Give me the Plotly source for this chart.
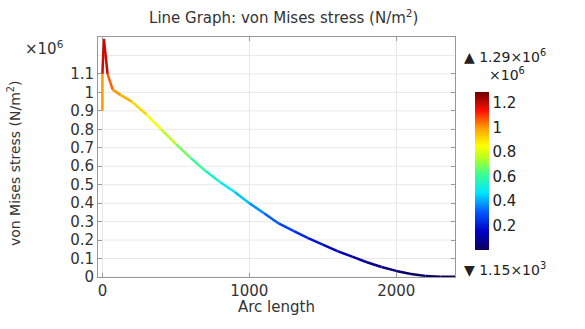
import plotly.graph_objects as go
from plotly.colors import sample_colorscale

# Arc length along the boundary and the von Mises stress there (x 1e6 N/m^2)
arc_length = [0, 0, 10, 35, 70, 125, 200, 300, 400, 500, 600, 700, 800, 900, 1000,
              1100, 1200, 1300, 1400, 1500, 1600, 1700, 1800, 1900, 2000, 2100,
              2200, 2300, 2400]
stress_e6 = [0.90, 1.10, 1.29, 1.10, 1.015, 0.985, 0.95, 0.88, 0.80, 0.72, 0.645,
             0.575, 0.515, 0.46, 0.40, 0.345, 0.29, 0.25, 0.21, 0.175, 0.14, 0.11,
             0.08, 0.054, 0.033, 0.016, 0.006, 0.002, 0.00115]
stress = [v * 1e6 for v in stress_e6]

y_ticks = [0, 0.1, 0.2, 0.3, 0.4, 0.5, 0.6, 0.7, 0.8, 0.9, 1.0, 1.1]
y_tick_text = ["0", "0.1", "0.2", "0.3", "0.4", "0.5", "0.6", "0.7", "0.8", "0.9", "1", "1.1"]
y_grid = [0.1 * k for k in range(13)]
x_ticks = [0, 1000, 2000]
cbar_ticks = [0.2, 0.4, 0.6, 0.8, 1.0, 1.2]
cbar_tick_text = ["0.2", "0.4", "0.6", "0.8", "1", "1.2"]

s_min, s_max = 1.15e3, 1.29e6

rainbow = [
    [0.00, "#0c005e"], [0.12, "#0000c8"], [0.24, "#0058ff"], [0.36, "#00e4ff"],
    [0.48, "#3cff90"], [0.58, "#b4ff20"], [0.66, "#ffff00"], [0.77, "#ffa000"],
    [0.88, "#ff1000"], [1.00, "#700000"],
]

fig = go.Figure()

# Line coloured by stress: one short segment per pair of points
for i in range(len(arc_length) - 1):
    mid = 0.5 * (stress[i] + stress[i + 1])
    t = min(max((mid - s_min) / (s_max - s_min), 0), 1)
    color = sample_colorscale(rainbow, [t])[0]
    fig.add_trace(go.Scatter(
        x=arc_length[i:i + 2], y=stress[i:i + 2], mode="lines",
        line=dict(color=color, width=2.5), showlegend=False, hoverinfo="skip",
    ))

# Colour legend for the stress values
fig.add_trace(go.Scatter(
    x=[None], y=[None], mode="markers", showlegend=False,
    marker=dict(
        color=[s_min, s_max], cmin=s_min, cmax=s_max, colorscale=rainbow,
        showscale=True,
        colorbar=dict(
            x=1.056, xanchor="left", y=0.442, yanchor="middle", xpad=0, ypad=0,
            thickness=14, len=158, lenmode="pixels", outlinewidth=0,
            tickvals=[v * 1e6 for v in cbar_ticks], ticktext=cbar_tick_text,
            ticks="", ticklabelposition="outside", tickfont=dict(size=15, color="#222"),
        ),
    ),
))

axis_font = dict(family="DejaVu Sans", size=15, color="#333")

fig.update_layout(
    width=585, height=329,
    margin=dict(l=98, r=130, t=37, b=52, autoexpand=False),
    paper_bgcolor="white", plot_bgcolor="white",
    font=dict(family="DejaVu Sans", size=15, color="#333"),
    title=dict(text="Line Graph: von Mises stress (N/m<sup>2</sup>)", x=0.485,
               xanchor="center", y=0.945, yanchor="middle",
               font=dict(size=15, color="#333")),
    xaxis=dict(
        range=[-30, 2400], tickvals=x_ticks, showgrid=True, gridcolor="#e8e8e8",
        zeroline=False, showline=True, linecolor="#999", mirror="ticks",
        ticks="inside", ticklen=4, tickcolor="#999", tickfont=axis_font,
        automargin=False,
    ),
    yaxis=dict(
        range=[0, 1.3e6], tickvals=[v * 1e6 for v in y_ticks], ticktext=y_tick_text,
        showgrid=False, zeroline=False, showline=True,
        linecolor="#999", mirror="ticks", ticks="inside", ticklen=4, tickcolor="#999",
        tickfont=axis_font, automargin=False,
    ),
    shapes=[
        dict(type="line", xref="paper", yref="y", x0=0, x1=1, y0=g * 1e6, y1=g * 1e6,
             line=dict(color="#e8e8e8", width=1), layer="below")
        for g in y_grid
    ],
    annotations=[
        dict(text="von Mises stress (N/m<sup>2</sup>)", xref="paper", yref="paper",
             x=-0.235, y=0.475, xanchor="center", yanchor="middle", textangle=-90,
             showarrow=False, font=dict(size=14, color="#333")),
        dict(text="Arc length", xref="paper", yref="paper", x=0.5, y=-0.125,
             xanchor="center", yanchor="middle", showarrow=False, font=axis_font),
        dict(text="×10<sup>6</sup>", xref="paper", yref="paper", x=-0.09, y=0.955,
             xanchor="right", yanchor="middle", showarrow=False, font=axis_font),
        dict(text="▲ 1.29×10<sup>6</sup>", xref="paper", yref="paper", x=1.02, y=0.92,
             xanchor="left", yanchor="middle", showarrow=False,
             font=dict(size=14, color="#222")),
        dict(text="×10<sup>6</sup>", xref="paper", yref="paper", x=1.09, y=0.845,
             xanchor="left", yanchor="middle", showarrow=False,
             font=dict(size=14, color="#222")),
        dict(text="▼ 1.15×10<sup>3</sup>", xref="paper", yref="paper", x=1.02, y=0.035,
             xanchor="left", yanchor="middle", showarrow=False,
             font=dict(size=14, color="#222")),
    ],
)

fig.write_html("out.html")
